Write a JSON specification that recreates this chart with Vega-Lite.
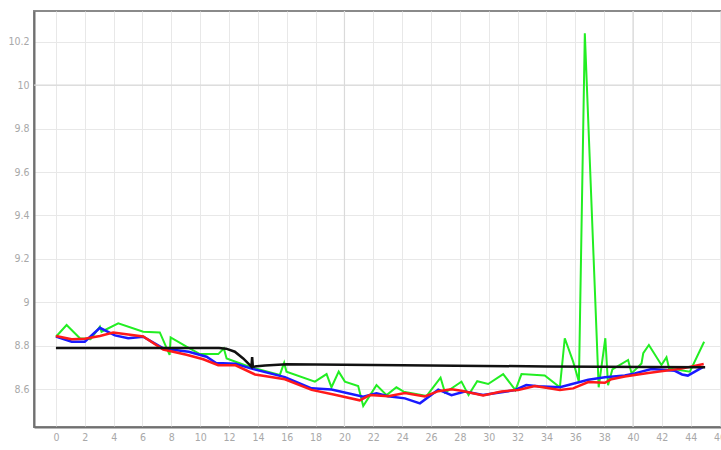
{
  "$schema": "https://vega.github.io/schema/vega-lite/v6.json",
  "autosize": {"type": "none"},
  "width": 700,
  "height": 416,
  "padding": {"left": 34, "top": 11, "right": 0, "bottom": 23},
  "background": "white",
  "config": {
    "view": {"stroke": "#8a8a8a", "strokeWidth": 2},
    "axis": {
      "labelFont": "DejaVu Sans Condensed, Liberation Sans Narrow, sans-serif",
      "labelFontSize": 10.5,
      "labelColor": "#a8a8a8",
      "ticks": false,
      "domainColor": "#707070",
      "domainWidth": 2,
      "gridColor": "#e8e8e8",
      "gridWidth": 1,
      "labelOverlap": false,
      "labelFlush": false,
      "labelPadding": 5,
      "title": null
    }
  },
  "datasets": {
    "lines": [
      {"series": "green", "x": 0, "y": 8.841},
      {"series": "green", "x": 0.74, "y": 8.895},
      {"series": "green", "x": 1.66, "y": 8.834},
      {"series": "green", "x": 2.4, "y": 8.83},
      {"series": "green", "x": 3.05, "y": 8.887},
      {"series": "green", "x": 3.16, "y": 8.864},
      {"series": "green", "x": 4.32, "y": 8.903},
      {"series": "green", "x": 6.05, "y": 8.864},
      {"series": "green", "x": 7.2, "y": 8.861},
      {"series": "green", "x": 7.88, "y": 8.757},
      {"series": "green", "x": 7.95, "y": 8.838},
      {"series": "green", "x": 9.05, "y": 8.795},
      {"series": "green", "x": 9.98, "y": 8.761},
      {"series": "green", "x": 11.25, "y": 8.761},
      {"series": "green", "x": 11.64, "y": 8.787},
      {"series": "green", "x": 11.83, "y": 8.741},
      {"series": "green", "x": 13.4, "y": 8.703},
      {"series": "green", "x": 15.52, "y": 8.665},
      {"series": "green", "x": 15.82, "y": 8.721},
      {"series": "green", "x": 15.98, "y": 8.68},
      {"series": "green", "x": 17.95, "y": 8.634},
      {"series": "green", "x": 18.76, "y": 8.669},
      {"series": "green", "x": 19.1, "y": 8.608},
      {"series": "green", "x": 19.6, "y": 8.68},
      {"series": "green", "x": 20.03, "y": 8.634},
      {"series": "green", "x": 20.95, "y": 8.614},
      {"series": "green", "x": 21.3, "y": 8.522},
      {"series": "green", "x": 22.22, "y": 8.618},
      {"series": "green", "x": 22.92, "y": 8.572},
      {"series": "green", "x": 23.6, "y": 8.608},
      {"series": "green", "x": 24.1, "y": 8.588},
      {"series": "green", "x": 25.7, "y": 8.568},
      {"series": "green", "x": 26.66, "y": 8.652},
      {"series": "green", "x": 26.97, "y": 8.583},
      {"series": "green", "x": 28.11, "y": 8.634},
      {"series": "green", "x": 28.6, "y": 8.572},
      {"series": "green", "x": 29.2, "y": 8.636},
      {"series": "green", "x": 29.96, "y": 8.623},
      {"series": "green", "x": 31.0, "y": 8.669},
      {"series": "green", "x": 31.85, "y": 8.595},
      {"series": "green", "x": 32.27, "y": 8.669},
      {"series": "green", "x": 33.88, "y": 8.662},
      {"series": "green", "x": 34.93, "y": 8.608},
      {"series": "green", "x": 35.27, "y": 8.834},
      {"series": "green", "x": 35.85, "y": 8.726},
      {"series": "green", "x": 36.25, "y": 8.634},
      {"series": "green", "x": 36.66, "y": 10.239},
      {"series": "green", "x": 37.62, "y": 8.608},
      {"series": "green", "x": 38.08, "y": 8.834},
      {"series": "green", "x": 38.27, "y": 8.618},
      {"series": "green", "x": 38.57, "y": 8.69},
      {"series": "green", "x": 39.66, "y": 8.734},
      {"series": "green", "x": 39.9, "y": 8.672},
      {"series": "green", "x": 40.59, "y": 8.718},
      {"series": "green", "x": 40.71, "y": 8.765},
      {"series": "green", "x": 41.1, "y": 8.803},
      {"series": "green", "x": 41.97, "y": 8.711},
      {"series": "green", "x": 42.32, "y": 8.746},
      {"series": "green", "x": 42.5, "y": 8.695},
      {"series": "green", "x": 43.94, "y": 8.68},
      {"series": "green", "x": 44.93, "y": 8.818},

      {"series": "blue", "x": 0, "y": 8.842},
      {"series": "blue", "x": 1.09, "y": 8.818},
      {"series": "blue", "x": 2.0, "y": 8.818},
      {"series": "blue", "x": 3.05, "y": 8.882},
      {"series": "blue", "x": 4.09, "y": 8.847},
      {"series": "blue", "x": 5.01, "y": 8.834},
      {"series": "blue", "x": 6.05, "y": 8.841},
      {"series": "blue", "x": 7.44, "y": 8.787},
      {"series": "blue", "x": 9.2, "y": 8.772},
      {"series": "blue", "x": 10.44, "y": 8.749},
      {"series": "blue", "x": 11.1, "y": 8.72},
      {"series": "blue", "x": 12.45, "y": 8.716},
      {"series": "blue", "x": 13.5, "y": 8.695},
      {"series": "blue", "x": 15.87, "y": 8.655},
      {"series": "blue", "x": 17.72, "y": 8.603},
      {"series": "blue", "x": 19.1, "y": 8.598},
      {"series": "blue", "x": 21.3, "y": 8.565},
      {"series": "blue", "x": 22.22, "y": 8.58},
      {"series": "blue", "x": 23.03, "y": 8.567},
      {"series": "blue", "x": 24.19, "y": 8.557},
      {"series": "blue", "x": 25.23, "y": 8.534},
      {"series": "blue", "x": 26.5, "y": 8.597},
      {"series": "blue", "x": 27.42, "y": 8.572},
      {"series": "blue", "x": 28.34, "y": 8.588},
      {"series": "blue", "x": 29.61, "y": 8.572},
      {"series": "blue", "x": 30.88, "y": 8.585},
      {"series": "blue", "x": 31.8, "y": 8.595},
      {"series": "blue", "x": 32.6, "y": 8.618},
      {"series": "blue", "x": 33.42, "y": 8.613},
      {"series": "blue", "x": 34.93, "y": 8.608},
      {"series": "blue", "x": 36.9, "y": 8.643},
      {"series": "blue", "x": 38.05, "y": 8.654},
      {"series": "blue", "x": 39.43, "y": 8.662},
      {"series": "blue", "x": 40.12, "y": 8.672},
      {"series": "blue", "x": 41.28, "y": 8.692},
      {"series": "blue", "x": 42.9, "y": 8.684},
      {"series": "blue", "x": 43.4, "y": 8.667},
      {"series": "blue", "x": 43.8, "y": 8.662},
      {"series": "blue", "x": 44.9, "y": 8.703},

      {"series": "red", "x": 0, "y": 8.844},
      {"series": "red", "x": 1.09, "y": 8.829},
      {"series": "red", "x": 2.0, "y": 8.832},
      {"series": "red", "x": 3.05, "y": 8.844},
      {"series": "red", "x": 3.97, "y": 8.86},
      {"series": "red", "x": 6.05, "y": 8.842},
      {"series": "red", "x": 7.44, "y": 8.782},
      {"series": "red", "x": 9.05, "y": 8.758},
      {"series": "red", "x": 10.21, "y": 8.737},
      {"series": "red", "x": 11.25, "y": 8.71},
      {"series": "red", "x": 12.45, "y": 8.709},
      {"series": "red", "x": 13.8, "y": 8.667},
      {"series": "red", "x": 14.25, "y": 8.662},
      {"series": "red", "x": 15.87, "y": 8.645},
      {"series": "red", "x": 17.72, "y": 8.596},
      {"series": "red", "x": 19.33, "y": 8.574},
      {"series": "red", "x": 21.06, "y": 8.548},
      {"series": "red", "x": 21.75, "y": 8.572},
      {"series": "red", "x": 23.03, "y": 8.567},
      {"series": "red", "x": 24.19, "y": 8.582},
      {"series": "red", "x": 25.57, "y": 8.566},
      {"series": "red", "x": 26.5, "y": 8.59},
      {"series": "red", "x": 27.42, "y": 8.599},
      {"series": "red", "x": 28.11, "y": 8.592},
      {"series": "red", "x": 29.61, "y": 8.57},
      {"series": "red", "x": 30.88, "y": 8.589},
      {"series": "red", "x": 32.04, "y": 8.596},
      {"series": "red", "x": 33.2, "y": 8.614},
      {"series": "red", "x": 34.93, "y": 8.596},
      {"series": "red", "x": 35.85, "y": 8.603},
      {"series": "red", "x": 36.9, "y": 8.632},
      {"series": "red", "x": 38.05, "y": 8.629},
      {"series": "red", "x": 38.5, "y": 8.645},
      {"series": "red", "x": 39.43, "y": 8.658},
      {"series": "red", "x": 41.05, "y": 8.674},
      {"series": "red", "x": 43.36, "y": 8.694},
      {"series": "red", "x": 44.9, "y": 8.715},

      {"series": "black", "x": 0, "y": 8.789},
      {"series": "black", "x": 11.3, "y": 8.789},
      {"series": "black", "x": 11.8, "y": 8.786},
      {"series": "black", "x": 12.4, "y": 8.772},
      {"series": "black", "x": 12.98, "y": 8.741},
      {"series": "black", "x": 13.55, "y": 8.703},
      {"series": "black", "x": 13.6, "y": 8.747},
      {"series": "black", "x": 13.65, "y": 8.703},
      {"series": "black", "x": 14.5, "y": 8.708},
      {"series": "black", "x": 16.0, "y": 8.714},
      {"series": "black", "x": 24.0, "y": 8.71},
      {"series": "black", "x": 34.0, "y": 8.704},
      {"series": "black", "x": 45.0, "y": 8.7}
    ],
    "gridx": [{"x": 20}, {"x": 40}],
    "gridy": [{"y": 10}]
  },
  "encoding": {
    "x": {
      "field": "x", "type": "quantitative",
      "scale": {"domain": [-1.52, 47], "nice": false, "zero": false},
      "axis": {"values": [0,2,4,6,8,10,12,14,16,18,20,22,24,26,28,30,32,34,36,38,40,42,44,46], "labelOverlap": false, "labelSeparation": 0}
    },
    "y": {
      "field": "y", "type": "quantitative",
      "scale": {"domain": [8.425, 10.342], "nice": false, "zero": false},
      "axis": {"values": [8.6, 8.8, 9, 9.2, 9.4, 9.6, 9.8, 10, 10.2], "format": ".1~f", "labelOverlap": false}
    }
  },
  "layer": [
    {
      "data": {"name": "gridx"},
      "mark": {"type": "rule", "color": "#dadada", "strokeWidth": 1.2},
      "encoding": {"y": null}
    },
    {
      "data": {"name": "gridy"},
      "mark": {"type": "rule", "color": "#dadada", "strokeWidth": 1.2},
      "encoding": {"x": null}
    },
    {
      "data": {"name": "lines"},
      "transform": [{"filter": "datum.series === 'green'"}],
      "mark": {"type": "line", "color": "#22ee22", "strokeWidth": 2}
    },
    {
      "data": {"name": "lines"},
      "transform": [{"filter": "datum.series === 'blue'"}],
      "mark": {"type": "line", "color": "#1a1aff", "strokeWidth": 2.5}
    },
    {
      "data": {"name": "lines"},
      "transform": [{"filter": "datum.series === 'red'"}],
      "mark": {"type": "line", "color": "#ff1a1a", "strokeWidth": 2.5}
    },
    {
      "data": {"name": "lines"},
      "transform": [{"filter": "datum.series === 'black'"}],
      "mark": {"type": "line", "color": "#111111", "strokeWidth": 2.5}
    }
  ]
}
